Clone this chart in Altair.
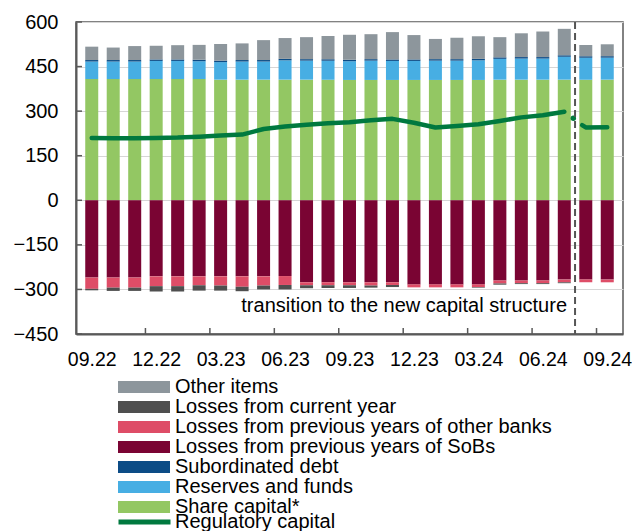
import json
import altair as alt
import pandas as pd

months = ["09.22", "10.22", "11.22", "12.22", "01.23", "02.23", "03.23", "04.23", "05.23",
          "06.23", "07.23", "08.23", "09.23", "10.23", "11.23", "12.23", "01.24", "02.24",
          "03.24", "04.24", "05.24", "06.24", "07.24", "08.24", "09.24"]

share_capital = [408, 408, 408, 408, 408, 408, 406, 406, 406, 406, 406, 406, 405,
                 405, 405, 405, 405, 405, 405, 406, 406, 406, 406, 406, 406]
reserves = [59, 59, 59, 61, 61, 60, 59, 61, 61, 65, 64, 64, 63,
            65, 64, 64, 65, 65, 66, 70, 71, 71, 77, 74, 74]
sub_debt = [5, 5, 5, 5, 5, 5, 5, 5, 5, 5, 5, 5, 5,
            5, 5, 5, 5, 5, 5, 5, 5, 5, 5, 5, 5]
other_items = [45, 42, 47, 46, 48, 50, 56, 56, 67, 70, 74, 78, 84,
               84, 92, 82, 68, 72, 76, 68, 80, 86, 89, 38, 40]
loss_sobs = [-260, -260, -260, -256, -256, -256, -256, -256, -256, -255, -276, -276, -276,
             -276, -276, -283, -283, -283, -283, -270, -270, -270, -267, -267, -267]
loss_other_banks = [-38, -34, -34, -33, -33, -30, -31, -35, -31, -30, -10, -10, -10,
                    -11, -9, -10, -10, -10, -9, -10, -9, -9, -9, -9, -9]
loss_current = [-5, -11, -11, -18, -18, -18, -17, -15, -13, -15, -10, -9, -9,
                -7, -7, 0, 0, 0, -2, -4, -3, -3, -3, 0, 0]

reg_capital_old = [210, 209, 209, 210, 211, 214, 218, 221, 240, 248, 254, 259, 263,
                   269, 274, 261, 245, 250, 256, 267, 279, 286, 298]
reg_new_x = [22.83, 23, 24]
reg_capital_new = [253, 245, 246]
reg_dot_x = [22.42]
reg_dot = [276]

label_idx = [0, 3, 6, 9, 12, 15, 18, 21, 24]
x_tick_boundaries = [2.5, 5.5, 8.5, 11.5, 14.5, 17.5, 20.5, 23.5]
y_ticks = [-450, -300, -150, 0, 150, 300, 450, 600]
transition_x = 22.5
note_text = "transition to the new capital structure"
note_y = -375

bar_series = ["Other items", "Losses from current year",
              "Losses from previous years of other banks",
              "Losses from previous years of SoBs", "Subordinated debt",
              "Reserves and funds", "Share capital*"]
bar_colors = ["#8D969C", "#4F4F4F", "#DE4D67", "#7A0433", "#0C4C86", "#47AEE3", "#93C763"]
line_name = "Regulatory capital"
line_color = "#00793F"

series_values = {
    "Share capital*": (share_capital, 0),
    "Reserves and funds": (reserves, 1),
    "Subordinated debt": (sub_debt, 2),
    "Other items": (other_items, 3),
    "Losses from previous years of SoBs": (loss_sobs, 0),
    "Losses from previous years of other banks": (loss_other_banks, 1),
    "Losses from current year": (loss_current, 2),
}
rows = []
for name, (vals, order) in series_values.items():
    for i, v in enumerate(vals):
        rows.append({"idx": i, "series": name, "value": v, "order": order})
df_bars = pd.DataFrame(rows)

line_rows = [{"idx": i, "value": v, "segment": "old", "series": line_name}
             for i, v in enumerate(reg_capital_old)]
line_rows += [{"idx": x, "value": v, "segment": "new", "series": line_name}
              for x, v in zip(reg_new_x, reg_capital_new)]
df_line = pd.DataFrame(line_rows)
df_dot = pd.DataFrame({"idx": reg_dot_x, "value": reg_dot})

FONT = "Liberation Sans"
AX = "#595959"
xs = alt.Scale(domain=[-0.5, 24.5], nice=False, zero=False)
ys = alt.Scale(domain=[-450, 600], nice=False, zero=False)

label_expr = "(" + json.dumps(months) + ")[datum.value]"

x_axis = alt.Axis(values=label_idx, labelExpr=label_expr, title=None, grid=False,
                  ticks=False, labelFontSize=19.5, labelPadding=16,
                  labelFlush=False, labelOverlap=False, domainColor=AX, domainWidth=2,
                  labelFont=FONT, labelColor="black")
y_axis = alt.Axis(values=y_ticks, title=None, ticks=False, labelPadding=18,
                  labelFontSize=20, labelFont=FONT, labelColor="black",
                  gridColor="#D6D6D6", gridWidth=1.2, domainColor=AX, domainWidth=2)

X = lambda: alt.X("idx:Q", scale=xs, axis=x_axis)

bars = alt.Chart(df_bars).mark_bar(size=13).encode(
    x=X(),
    y=alt.Y("value:Q", stack="zero", scale=ys, axis=y_axis),
    fill=alt.Fill("series:N", scale=alt.Scale(domain=bar_series, range=bar_colors),
                  legend=alt.Legend(orient="none", legendX=58, legendY=355, title=None,
                                    symbolType="M-4.333,-1H4.333V1H-4.333Z", symbolSize=144,
                                    symbolStrokeWidth=0, labelFontSize=20, labelFont=FONT,
                                    labelColor="black", labelLimit=600, rowPadding=-1,
                                    labelOffset=21, padding=0)),
    order=alt.Order("order:Q"),
)

line = alt.Chart(df_line).mark_line(strokeWidth=4.5, strokeCap="round", strokeJoin="round").encode(
    x=X(),
    y=alt.Y("value:Q", scale=ys, axis=y_axis),
    detail="segment:N",
    stroke=alt.Stroke("series:N", scale=alt.Scale(domain=[line_name], range=[line_color]),
                      legend=alt.Legend(orient="none", legendX=58.5, legendY=490, title=None,
                                        symbolType="M-4.333,0H4.333", symbolSize=144,
                                        symbolStrokeWidth=5, labelFontSize=20,
                                        labelFont=FONT, labelColor="black", labelLimit=600,
                                        rowPadding=0, labelOffset=20.5, padding=0)),
)

dot = alt.Chart(df_dot).mark_circle(size=30, color=line_color, opacity=1).encode(
    x=X(),
    y=alt.Y("value:Q", scale=ys, axis=y_axis),
)

vline = alt.Chart(pd.DataFrame({"idx": [transition_x]})).mark_rule(
    strokeDash=[7, 4], color="#555555", strokeWidth=2).encode(x=X())

note = alt.Chart(pd.DataFrame({"idx": [transition_x], "value": [note_y], "text": [note_text]})).mark_text(
    align="right", baseline="alphabetic", dx=-8, fontSize=20, font=FONT, color="black").encode(
    x=X(),
    y=alt.Y("value:Q", scale=ys, axis=y_axis),
    text="text:N")

xticks = alt.Chart(pd.DataFrame({"idx": x_tick_boundaries})).mark_rule(
    color=AX, strokeWidth=1.5).encode(
    x=X(), y=alt.value(306), y2=alt.value(312))

yticks = alt.Chart(pd.DataFrame({"value": y_ticks})).mark_rule(
    color=AX, strokeWidth=1.5).encode(
    y=alt.Y("value:Q", scale=ys, axis=y_axis), x=alt.value(0), x2=alt.value(6))

chart = alt.layer(bars, line, dot, vline, note, xticks, yticks).resolve_scale(
    fill="independent", stroke="independent"
).properties(
    width=547, height=312,
    autosize=alt.AutoSizeParams(type="none"),
    padding={"left": 68, "top": 14, "right": 9, "bottom": 200},
).configure_view(stroke=AX, strokeWidth=1.5)

chart.save("out.html", embed_options={"renderer": "svg", "actions": False})
